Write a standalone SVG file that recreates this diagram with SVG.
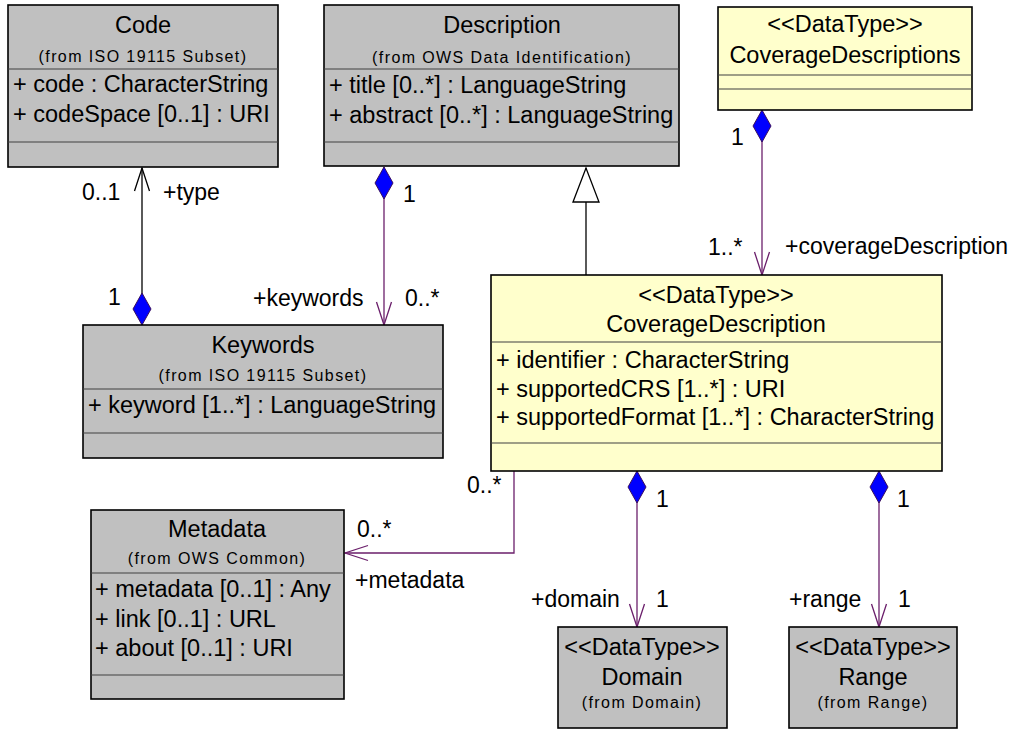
<svg xmlns="http://www.w3.org/2000/svg" width="1011" height="730" viewBox="0 0 1011 730">
<style>
text{font-family:"Liberation Sans",Arial,sans-serif;fill:#000}
.t{font-size:23.5px;text-anchor:middle}
.s{font-size:16px;text-anchor:middle;letter-spacing:1.4px}
.a{font-size:23.5px}
.l{font-size:23px}
.gray{fill:#C0C0C0;stroke:#000;stroke-width:1.6}
.yel{fill:#FFFFCC;stroke:#000;stroke-width:1.6}
.div{stroke:#404040;stroke-width:1.2}
.cp{fill:none;stroke:#6B1F6B;stroke-width:1.3}
.cb{fill:none;stroke:#000;stroke-width:1.3}
</style>
<defs>
<marker id="dia" markerUnits="userSpaceOnUse" markerWidth="40" markerHeight="24" viewBox="-2 -12 40 24" refX="0" refY="0" orient="auto">
<path d="M0,0 L16,-9 L32,0 L16,9 Z" fill="#0000FF" stroke="#3A1060" stroke-width="1"/>
</marker>
<marker id="arrP" markerUnits="userSpaceOnUse" markerWidth="30" markerHeight="20" viewBox="-28 -10 30 20" refX="0" refY="0" orient="auto">
<path d="M-23,-7.5 L0,0 L-23,7.5" fill="none" stroke="#6B1F6B" stroke-width="1.3"/>
</marker>
<marker id="arrB" markerUnits="userSpaceOnUse" markerWidth="30" markerHeight="20" viewBox="-28 -10 30 20" refX="0" refY="0" orient="auto">
<path d="M-23,-7.5 L0,0 L-23,7.5" fill="none" stroke="#000" stroke-width="1.3"/>
</marker>
<marker id="gen" markerUnits="userSpaceOnUse" markerWidth="40" markerHeight="32" viewBox="-38 -16 40 32" refX="0" refY="0" orient="auto">
<path d="M-34,-13 L0,0 L-34,13 Z" fill="#fff" stroke="#000" stroke-width="1.3"/>
</marker>
</defs>

<g id="connectors">
<path class="cb" d="M142,325 L142,168" marker-start="url(#dia)" marker-end="url(#arrB)"/>
<path class="cp" d="M384,167 L384,325" marker-start="url(#dia)" marker-end="url(#arrP)"/>
<path class="cb" d="M586,275 L586,168" marker-end="url(#gen)"/>
<path class="cp" d="M762,110 L762,275" marker-start="url(#dia)" marker-end="url(#arrP)"/>
<path class="cp" d="M637,471 L637,627" marker-start="url(#dia)" marker-end="url(#arrP)"/>
<path class="cp" d="M879,471 L879,627" marker-start="url(#dia)" marker-end="url(#arrP)"/>
<path class="cp" d="M514,471 L514,553 L345,553" marker-end="url(#arrP)"/>
<text class="l" x="82" y="200">0..1</text>
<text class="l" x="163" y="200">+type</text>
<text class="l" x="108" y="305">1</text>
<text class="l" x="403" y="202">1</text>
<text class="l" x="253" y="306">+keywords</text>
<text class="l" x="405" y="306">0..*</text>
<text class="l" x="731" y="145">1</text>
<text class="l" x="708" y="255">1..*</text>
<text class="l" x="785" y="254">+coverageDescription</text>
<text class="l" x="467" y="493">0..*</text>
<text class="l" x="357" y="537">0..*</text>
<text class="l" x="355" y="588">+metadata</text>
<text class="l" x="656" y="507">1</text>
<text class="l" x="897" y="507">1</text>
<text class="l" x="531" y="607">+domain</text>
<text class="l" x="656" y="607">1</text>
<text class="l" x="789" y="607">+range</text>
<text class="l" x="898" y="607">1</text>
</g>

<g id="Code">
<rect class="gray" x="8" y="5" width="270" height="162"/>
<line class="div" x1="8" y1="69" x2="278" y2="69"/>
<line class="div" x1="8" y1="142" x2="278" y2="142"/>
<text class="t" x="143" y="33">Code</text>
<text class="s" x="143" y="62">(from ISO 19115 Subset)</text>
<text class="a" x="13" y="92">+ code : CharacterString</text>
<text class="a" x="13" y="122">+ codeSpace [0..1] : URI</text>
</g>

<g id="Description">
<rect class="gray" x="324" y="5" width="355" height="161"/>
<line class="div" x1="324" y1="69" x2="679" y2="69"/>
<line class="div" x1="324" y1="142" x2="679" y2="142"/>
<text class="t" x="502" y="33">Description</text>
<text class="s" x="502" y="63">(from OWS Data Identification)</text>
<text class="a" x="329" y="93">+ title [0..*] : LanguageString</text>
<text class="a" x="329" y="123">+ abstract [0..*] : LanguageString</text>
</g>

<g id="CoverageDescriptions">
<rect class="yel" x="718" y="7" width="254" height="103"/>
<line class="div" x1="718" y1="75" x2="972" y2="75"/>
<line class="div" x1="718" y1="89" x2="972" y2="89"/>
<text class="t" x="845" y="32">&lt;&lt;DataType&gt;&gt;</text>
<text class="t" x="845" y="63">CoverageDescriptions</text>
</g>

<g id="Keywords">
<rect class="gray" x="83" y="325" width="360" height="133"/>
<line class="div" x1="83" y1="389" x2="443" y2="389"/>
<line class="div" x1="83" y1="433" x2="443" y2="433"/>
<text class="t" x="263" y="353">Keywords</text>
<text class="s" x="263" y="381">(from ISO 19115 Subset)</text>
<text class="a" x="88" y="413">+ keyword [1..*] : LanguageString</text>
</g>

<g id="CoverageDescription">
<rect class="yel" x="491" y="275" width="451" height="196"/>
<line class="div" x1="491" y1="342" x2="942" y2="342"/>
<line class="div" x1="491" y1="443" x2="942" y2="443"/>
<text class="t" x="716" y="303">&lt;&lt;DataType&gt;&gt;</text>
<text class="t" x="716" y="332">CoverageDescription</text>
<text class="a" x="496" y="368">+ identifier : CharacterString</text>
<text class="a" x="496" y="397">+ supportedCRS [1..*] : URI</text>
<text class="a" x="496" y="425">+ supportedFormat [1..*] : CharacterString</text>
</g>

<g id="Metadata">
<rect class="gray" x="91" y="510" width="253" height="189"/>
<line class="div" x1="91" y1="573" x2="344" y2="573"/>
<line class="div" x1="91" y1="675" x2="344" y2="675"/>
<text class="t" x="217" y="537">Metadata</text>
<text class="s" x="217" y="564">(from OWS Common)</text>
<text class="a" x="95" y="597">+ metadata [0..1] : Any</text>
<text class="a" x="95" y="627">+ link [0..1] : URL</text>
<text class="a" x="95" y="656">+ about [0..1] : URI</text>
</g>

<g id="Domain">
<rect class="gray" x="558" y="627" width="169" height="101"/>
<text class="t" x="642" y="655">&lt;&lt;DataType&gt;&gt;</text>
<text class="t" x="642" y="685">Domain</text>
<text class="s" x="642" y="708">(from Domain)</text>
</g>

<g id="Range">
<rect class="gray" x="789" y="627" width="168" height="101"/>
<text class="t" x="873" y="655">&lt;&lt;DataType&gt;&gt;</text>
<text class="t" x="873" y="685">Range</text>
<text class="s" x="873" y="708">(from Range)</text>
</g>
</svg>
